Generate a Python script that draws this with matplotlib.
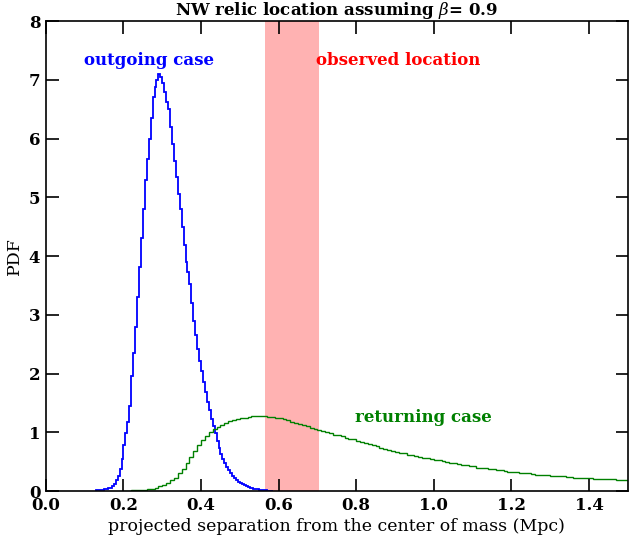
import numpy as np
import matplotlib
matplotlib.use("Agg")
import matplotlib.pyplot as plt

# ---- data ----
blue_start = 0.13
blue_width = 0.005
blue_pdf = [0.01, 0.01, 0.02, 0.02, 0.03, 0.04, 0.05, 0.06, 0.08, 0.12,
            0.18, 0.26, 0.38, 0.55, 0.78, 0.98, 1.18, 1.45, 1.95, 2.35,
            2.80, 3.30, 3.82, 4.30, 4.80, 5.30, 5.65, 6.00, 6.35, 6.70,
            6.88, 7.00, 7.10, 7.05, 6.95, 6.80, 6.62, 6.50, 6.20, 5.90,
            5.62, 5.35, 5.05, 4.80, 4.50, 4.18, 3.90, 3.72, 3.52, 3.20,
            2.90, 2.65, 2.42, 2.22, 2.05, 1.85, 1.68, 1.52, 1.38, 1.22,
            1.10, 0.98, 0.86, 0.74, 0.63, 0.55, 0.47, 0.41, 0.35, 0.30,
            0.26, 0.22, 0.19, 0.16, 0.14, 0.12, 0.10, 0.085, 0.07, 0.06,
            0.05, 0.04, 0.035, 0.03, 0.025, 0.02, 0.015, 0.01, 0.008, 0.005,
            0.003]

green_start = 0.20
green_width = 0.01
green_pdf = [0.00, 0.005, 0.01, 0.01, 0.015, 0.02, 0.03, 0.04, 0.055, 0.08,
             0.10, 0.13, 0.18, 0.23, 0.30, 0.38, 0.47, 0.58, 0.68, 0.78,
             0.87, 0.94, 1.00, 1.05, 1.09, 1.13, 1.16, 1.19, 1.21, 1.23,
             1.24, 1.25, 1.26, 1.27, 1.27, 1.27, 1.27, 1.26, 1.26, 1.25,
             1.24, 1.22, 1.21, 1.18, 1.16, 1.14, 1.12, 1.10, 1.08, 1.06,
             1.04, 1.02, 1.00, 0.98, 0.96, 0.95, 0.93, 0.91, 0.89, 0.88,
             0.86, 0.84, 0.82, 0.80, 0.78, 0.76, 0.74, 0.72, 0.70, 0.68,
             0.67, 0.65, 0.64, 0.62, 0.61, 0.60, 0.58, 0.57, 0.56, 0.54,
             0.53, 0.52, 0.51, 0.50, 0.48, 0.47, 0.46, 0.45, 0.44, 0.43,
             0.42, 0.40, 0.39, 0.39, 0.38, 0.37, 0.36, 0.35, 0.34, 0.33,
             0.32, 0.32, 0.31, 0.30, 0.30, 0.29, 0.28, 0.28, 0.27, 0.27,
             0.26, 0.26, 0.25, 0.25, 0.24, 0.24, 0.23, 0.23, 0.23, 0.22,
             0.22, 0.21, 0.21, 0.21, 0.20, 0.20, 0.20, 0.19, 0.19, 0.19]

observed_range = [0.564, 0.703]
xticks = [0.0, 0.2, 0.4, 0.6, 0.8, 1.0, 1.2, 1.4]
yticks = [0, 1, 2, 3, 4, 5, 6, 7, 8]

# ---- plot ----
plt.rcParams['font.family'] = ['DejaVu Serif']
plt.rcParams['mathtext.fontset'] = 'dejavuserif'

fig = plt.figure(figsize=(6.29, 5.39), dpi=100)
ax = fig.add_axes([0.073, 0.089, 0.925, 0.872])

blue_edges = blue_start + blue_width * np.arange(len(blue_pdf) + 1)
green_edges = green_start + green_width * np.arange(len(green_pdf) + 1)

ax.axvspan(observed_range[0], observed_range[1], color='red', alpha=0.3, lw=0)
ax.stairs(blue_pdf, blue_edges, color='blue', lw=1.3)
ax.stairs(green_pdf, green_edges, color='green', lw=1.0)

ax.set_xlim(0, 1.5)
ax.set_ylim(0, 8)
ax.set_xticks(xticks)
ax.set_yticks(yticks)
ax.set_xticklabels([f"{t:.1f}" for t in xticks], fontweight='bold', fontsize=12)
ax.set_yticklabels([str(t) for t in yticks], fontweight='bold', fontsize=12)
ax.tick_params(direction='in', length=9, width=1.2, top=True, right=True, pad=4)
for s in ax.spines.values():
    s.set_linewidth(1.2)

ax.set_xlabel('projected separation from the center of mass (Mpc)', fontsize=12.5,
              labelpad=3)
ax.set_ylabel('PDF', fontsize=12.5)
ax.set_title(r'NW relic location assuming $\beta$= 0.9', fontweight='bold',
             fontsize=12, pad=4)

ax.text(0.265, 7.32, 'outgoing case', color='blue', fontweight='bold',
        fontsize=12, ha='center', va='center')
ax.text(0.909, 7.32, 'observed location', color='red', fontweight='bold',
        fontsize=12, ha='center', va='center')
ax.text(0.973, 1.26, 'returning case', color='green', fontweight='bold',
        fontsize=12, ha='center', va='center')

fig.savefig('out.png', dpi=100)
